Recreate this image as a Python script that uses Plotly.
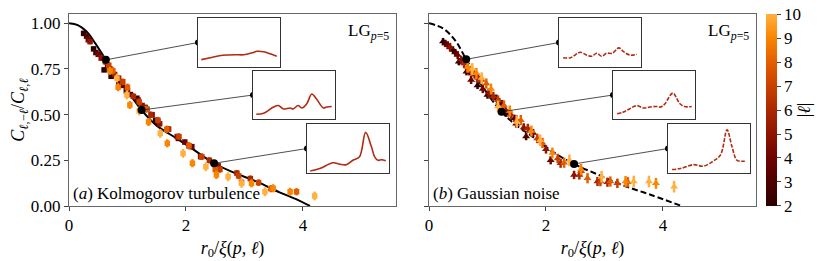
import plotly.graph_objects as go

# ---------------- data ----------------
ells = [2, 3, 4, 5, 6, 7, 8, 9, 10]
ell_colors = ["#2d0000", "#4d0000", "#6e0300", "#8e1400", "#ab2800",
              "#c94100", "#e45e00", "#f98500", "#ffb040"]
err_by_ell = [0.012, 0.012, 0.014, 0.015, 0.017, 0.018, 0.020, 0.022, 0.024]

# panel (a) Kolmogorov turbulence
xa = {
    2: [0.25, 0.42, 0.60, 0.72, 0.98, 1.16, 1.33, 1.48],
    3: [0.30, 0.46, 0.66, 0.85, 1.05, 1.30, 1.52, 1.87],
    4: [0.33, 0.50, 0.70, 0.90, 1.18, 1.42, 1.70, 1.98, 2.10],
    5: [0.36, 0.55, 0.78, 1.00, 1.25, 1.55, 1.85, 2.25, 2.55],
    6: [0.62, 0.85, 1.10, 1.40, 1.70, 2.05, 2.40, 2.87, 3.10],
    7: [0.68, 0.92, 1.20, 1.52, 1.88, 2.27, 2.58, 2.90, 3.24],
    8: [0.75, 1.00, 1.32, 1.67, 2.05, 2.50, 2.95, 3.45, 3.89],
    9: [0.70, 0.84, 1.04, 1.36, 1.68, 2.11, 2.52, 3.12, 3.49, 3.78],
    10: [0.82, 0.99, 1.20, 1.56, 1.95, 2.34, 2.72, 2.95, 3.35, 4.20],
}
ya = {
    2: [0.945, 0.86, 0.745, 0.71, 0.63, 0.59, 0.53, 0.47],
    3: [0.93, 0.84, 0.77, 0.68, 0.61, 0.54, 0.46, 0.37],
    4: [0.91, 0.83, 0.75, 0.66, 0.58, 0.50, 0.42, 0.35, 0.325],
    5: [0.90, 0.81, 0.72, 0.63, 0.55, 0.45, 0.38, 0.27, 0.22],
    6: [0.79, 0.70, 0.60, 0.50, 0.42, 0.33, 0.25, 0.18, 0.15],
    7: [0.77, 0.68, 0.57, 0.47, 0.38, 0.27, 0.20, 0.165, 0.128],
    8: [0.74, 0.65, 0.53, 0.42, 0.33, 0.20, 0.13, 0.095, 0.078],
    9: [0.74, 0.65, 0.553, 0.46, 0.343, 0.234, 0.17, 0.124, 0.097, 0.078],
    10: [0.70, 0.608, 0.52, 0.398, 0.288, 0.215, 0.16, 0.124, 0.078, 0.055],
}
# panel (b) Gaussian noise
xb = {
    2: [0.24, 0.41, 0.51, 0.69, 0.83, 1.00, 1.15, 1.32],
    3: [0.28, 0.45, 0.64, 0.86, 1.05, 1.25, 1.46, 1.66],
    4: [0.32, 0.49, 0.72, 0.92, 1.20, 1.49, 1.78, 2.08],
    5: [0.36, 0.55, 0.78, 1.02, 1.30, 1.62, 2.00, 2.48],
    6: [0.60, 0.84, 1.10, 1.40, 1.69, 2.25, 2.57, 2.88, 3.05],
    7: [0.66, 0.90, 1.18, 1.50, 1.85, 2.20, 2.60, 2.93, 3.22],
    8: [0.72, 0.98, 1.28, 1.57, 1.94, 2.31, 2.71, 3.10, 3.40],
    9: [0.66, 0.81, 1.06, 1.38, 1.75, 2.11, 2.60, 3.36, 3.88],
    10: [0.74, 0.90, 1.18, 1.50, 1.90, 2.40, 2.95, 3.50, 3.76, 4.19],
}
yb = {
    2: [0.90, 0.854, 0.79, 0.735, 0.66, 0.607, 0.59, 0.508],
    3: [0.89, 0.84, 0.735, 0.69, 0.61, 0.56, 0.48, 0.38],
    4: [0.88, 0.826, 0.69, 0.64, 0.57, 0.45, 0.40, 0.25],
    5: [0.87, 0.80, 0.72, 0.62, 0.53, 0.43, 0.31, 0.17],
    6: [0.78, 0.70, 0.60, 0.50, 0.425, 0.234, 0.17, 0.134, 0.13],
    7: [0.76, 0.69, 0.58, 0.47, 0.37, 0.26, 0.19, 0.134, 0.124],
    8: [0.74, 0.67, 0.55, 0.47, 0.345, 0.237, 0.152, 0.134, 0.13],
    9: [0.76, 0.726, 0.64, 0.52, 0.41, 0.29, 0.20, 0.134, 0.124],
    10: [0.75, 0.70, 0.545, 0.46, 0.36, 0.25, 0.16, 0.134, 0.134, 0.106],
}

# theory curves
curve_a_x = [0, 0.15, 0.3, 0.45, 0.63, 0.8, 0.93, 1.1, 1.24, 1.5, 1.84, 2.1, 2.48, 2.8, 3.21, 3.6, 3.9, 4.12]
curve_a_y = [1.0, 0.99, 0.955, 0.89, 0.80, 0.72, 0.663, 0.585, 0.525, 0.44, 0.37, 0.315, 0.234, 0.185, 0.133, 0.075, 0.035, 0.0]
curve_b_x = [0, 0.24, 0.45, 0.636, 0.9, 1.24, 1.5, 1.77, 2.1, 2.48, 2.9, 3.3, 3.8, 4.32]
curve_b_y = [1.0, 0.972, 0.905, 0.803, 0.66, 0.516, 0.44, 0.38, 0.30, 0.23, 0.17, 0.115, 0.06, 0.0]

# highlighted points (linked to insets)
hi_a_x = [0.63, 1.24, 2.48]
hi_a_y = [0.80, 0.525, 0.234]
hi_b_x = [0.636, 1.24, 2.48]
hi_b_y = [0.803, 0.516, 0.23]

# inset profiles (normalised)
ins_a = [
    ([0.04, 0.15, 0.26, 0.36, 0.46, 0.56, 0.66, 0.72, 0.80, 0.88, 0.96],
     [0.15, 0.19, 0.23, 0.245, 0.25, 0.25, 0.29, 0.32, 0.31, 0.27, 0.22]),
    ([0.04, 0.13, 0.25, 0.31, 0.37, 0.45, 0.49, 0.55, 0.595, 0.656, 0.717, 0.777, 0.858, 0.899, 0.96],
     [0.10, 0.12, 0.25, 0.28, 0.21, 0.23, 0.21, 0.28, 0.23, 0.32, 0.52, 0.41, 0.23, 0.25, 0.26]),
    ([0.04, 0.155, 0.317, 0.40, 0.48, 0.56, 0.64, 0.715, 0.785, 0.825, 0.866, 0.91, 0.96],
     [0.04, 0.09, 0.21, 0.18, 0.17, 0.26, 0.33, 0.83, 0.54, 0.33, 0.26, 0.27, 0.25]),
]
ins_b = [
    ([0.05, 0.14, 0.26, 0.34, 0.40, 0.46, 0.52, 0.58, 0.65, 0.73, 0.79, 0.87, 0.95],
     [0.19, 0.19, 0.30, 0.24, 0.22, 0.28, 0.22, 0.28, 0.28, 0.39, 0.31, 0.24, 0.26]),
    ([0.05, 0.12, 0.20, 0.29, 0.37, 0.45, 0.53, 0.58, 0.63, 0.73, 0.81, 0.87, 0.96],
     [0.11, 0.14, 0.21, 0.28, 0.23, 0.25, 0.26, 0.25, 0.31, 0.54, 0.33, 0.26, 0.26]),
    ([0.05, 0.15, 0.31, 0.43, 0.54, 0.64, 0.72, 0.78, 0.84, 0.90, 0.96],
     [0.07, 0.09, 0.17, 0.14, 0.23, 0.37, 0.88, 0.54, 0.26, 0.24, 0.24]),
]

# ---------------- layout geometry (pixels, in screenshot coordinates) ----------------
W, H = 831, 261
OFF = 8  # page body margin that offsets the figure in the screenshot
AX_L, AX_R, AX_T, AX_B = 69, 756, 14, 206   # overall plot-area extent in the screenshot
ML, MT = AX_L - OFF, AX_T - OFF
MR, MB = W - (AX_R - OFF), H - (AX_B - OFF)
PW, PH = AX_R - AX_L, AX_B - AX_T
XR = [0, 5.59]
YR = [0, 1.051]
pa = (69, 396)   # panel a pixel x-extent
pb = (429, 756)  # panel b pixel x-extent
insets_a_px = [(198, 280, 18, 67), (253, 335, 71, 119), (307, 389, 124, 173)]
insets_b_px = [(559, 641, 18, 67), (613, 695, 71, 119), (668, 750, 124, 173)]


def px2fx(px):
    return (px - AX_L) / PW


def py2fy(py):
    return (AX_B - py) / PH


def px2data(px, panel):
    return XR[0] + (px - panel[0]) / (panel[1] - panel[0]) * (XR[1] - XR[0])


def py2data(py):
    return YR[0] + (AX_B - py) / PH * (YR[1] - YR[0])


FONT = "Liberation Serif, DejaVu Serif, Times New Roman, serif"
INSET_COLOR = "#b22a10"

fig = go.Figure()

# theory curves
fig.add_trace(go.Scatter(x=curve_a_x, y=curve_a_y, mode="lines", line=dict(color="black", width=2, shape="spline"),
                         xaxis="x", yaxis="y", showlegend=False))
fig.add_trace(go.Scatter(x=curve_b_x, y=curve_b_y, mode="lines",
                         line=dict(color="black", width=2, dash="6px,3px", shape="spline"),
                         xaxis="x2", yaxis="y2", showlegend=False))

# data points
for i, l in enumerate(ells):
    fig.add_trace(go.Scatter(
        x=xa[l], y=ya[l], mode="markers", xaxis="x", yaxis="y", showlegend=False,
        marker=dict(symbol="square", size=5.5, color=ell_colors[i], line=dict(width=0)),
        error_y=dict(type="constant", value=err_by_ell[i], color=ell_colors[i], thickness=2.5, width=0)))
    fig.add_trace(go.Scatter(
        x=xb[l], y=yb[l], mode="markers", xaxis="x2", yaxis="y2", showlegend=False,
        marker=dict(symbol="triangle-up", size=7, color=ell_colors[i], line=dict(width=0)),
        error_y=dict(type="constant", value=err_by_ell[i] + 0.008, color=ell_colors[i], thickness=2.5, width=0)))

# connectors + highlighted points
for (hx, hy, ins_px, panel, xa_n, ya_n) in [
        (hi_a_x, hi_a_y, insets_a_px, pa, "x", "y"),
        (hi_b_x, hi_b_y, insets_b_px, pb, "x2", "y2")]:
    for k in range(3):
        x0p, x1p, y0p, y1p = ins_px[k]
        ex = px2data(x0p, panel)
        ey = py2data((y0p + y1p) / 2)
        fig.add_trace(go.Scatter(x=[hx[k], ex], y=[hy[k], ey], mode="lines",
                                 line=dict(color="#222", width=0.8),
                                 xaxis=xa_n, yaxis=ya_n, showlegend=False, cliponaxis=False))
        fig.add_trace(go.Scatter(x=[hx[k], ex], y=[hy[k], ey], mode="markers",
                                 marker=dict(color="#000000", size=[8, 6], opacity=1, line=dict(width=0)),
                                 xaxis=xa_n, yaxis=ya_n, showlegend=False, cliponaxis=False))

# inset traces
axis_idx = 3
inset_axes = {}
for ins_list, ins_px, dash in [(ins_a, insets_a_px, "solid"), (ins_b, insets_b_px, "4px,1.5px")]:
    for k in range(3):
        xs, ys = ins_list[k]
        fig.add_trace(go.Scatter(x=xs, y=ys, mode="lines",
                                 line=dict(color=INSET_COLOR, width=1.6, dash=dash, shape="spline"),
                                 xaxis=f"x{axis_idx}", yaxis=f"y{axis_idx}", showlegend=False))
        x0p, x1p, y0p, y1p = ins_px[k]
        inset_axes[axis_idx] = ([px2fx(x0p), px2fx(x1p)], [py2fy(y1p), py2fy(y0p)])
        axis_idx += 1

# colorbar carrier
cpad = 0.0005
fig.add_trace(go.Scatter(
    x=[None], y=[None], mode="markers", xaxis="x", yaxis="y", showlegend=False,
    marker=dict(color=[ells[0], ells[-1]], cmin=ells[0] - cpad, cmax=ells[-1] + cpad,
                colorscale=[[(l - ells[0]) / (ells[-1] - ells[0]), c] for l, c in zip(ells, ell_colors)],
                showscale=True,
                colorbar=dict(x=px2fx(766), xanchor="left", xpad=0, ypad=0, y=0.5, yanchor="middle",
                              len=1.0, lenmode="fraction", thickness=11, thicknessmode="pixels",
                              outlinewidth=0, tickvals=ells, ticktext=[str(l) for l in ells],
                              ticklabeloverflow="allow",
                              ticks="outside", ticklen=4,
                              tickcolor="#444", tickfont=dict(family=FONT, size=17, color="black"),
                              title=dict(text="|<i>ℓ</i>|", side="right",
                                         font=dict(family=FONT, size=18, color="black")))))
)

axis_common = dict(range=XR, showgrid=False, zeroline=False, showline=True, mirror=True,
                   linecolor="#666", linewidth=1, ticks="outside", ticklen=4, tickcolor="#444",
                   tickvals=[0, 2, 4], tickfont=dict(family=FONT, size=17, color="black"),
                   title=dict(text="<i>r</i><sub>0</sub>/<i>ξ</i>(<i>p</i>, <i>ℓ</i>)",
                              font=dict(family=FONT, size=18, color="black"), standoff=6))
yaxis_common = dict(range=YR, showgrid=False, zeroline=False, showline=True, mirror=True,
                    linecolor="#666", linewidth=1, ticks="outside", ticklen=4, tickcolor="#444",
                    tickvals=[0, 0.25, 0.5, 0.75, 1.0], tickformat=".2f",
                    tickfont=dict(family=FONT, size=17, color="black"))

layout = dict(
    width=W, height=H, margin=dict(l=ML, r=MR, t=MT, b=MB, autoexpand=False),
    paper_bgcolor="white", plot_bgcolor="white",
    font=dict(family=FONT, color="black"),
    xaxis=dict(axis_common, domain=[px2fx(pa[0]), px2fx(pa[1])], anchor="y", automargin=False),
    yaxis=dict(yaxis_common, domain=[0, 1], anchor="x", automargin=False,
               title=dict(text="<i>C</i><sub><i>ℓ</i>,−<i>ℓ</i></sub>/<i>C</i><sub><i>ℓ</i>,<i>ℓ</i></sub>",
                          font=dict(family=FONT, size=18, color="black"), standoff=4)),
    xaxis2=dict(axis_common, domain=[px2fx(pb[0]), px2fx(pb[1])], anchor="y2", automargin=False),
    yaxis2=dict(yaxis_common, domain=[0, 1], anchor="x2", showticklabels=False, automargin=False),
    annotations=[
        dict(text="(<i>a</i>) Kolmogorov turbulence", xref="x domain", yref="y domain", x=0.005, y=0.005,
             xanchor="left", yanchor="bottom", showarrow=False, font=dict(family=FONT, size=17)),
        dict(text="(<i>b</i>) Gaussian noise", xref="x2 domain", yref="y2 domain", x=0.005, y=0.005,
             xanchor="left", yanchor="bottom", showarrow=False, font=dict(family=FONT, size=17)),
        dict(text="LG<sub><i>p</i>=5</sub>", xref="x domain", yref="y domain", x=0.985, y=0.975,
             xanchor="right", yanchor="top", showarrow=False, font=dict(family=FONT, size=17)),
        dict(text="LG<sub><i>p</i>=5</sub>", xref="x2 domain", yref="y2 domain", x=0.985, y=0.975,
             xanchor="right", yanchor="top", showarrow=False, font=dict(family=FONT, size=17)),
    ],
)
for idx, (dx, dy) in inset_axes.items():
    layout[f"xaxis{idx}"] = dict(domain=dx, range=[0, 1], anchor=f"y{idx}", showgrid=False, zeroline=False,
                                 showline=True, mirror=True, linecolor="#333", linewidth=1,
                                 showticklabels=False, ticks="", fixedrange=True)
    layout[f"yaxis{idx}"] = dict(domain=dy, range=[0, 1], anchor=f"x{idx}", showgrid=False, zeroline=False,
                                 showline=True, mirror=True, linecolor="#333", linewidth=1,
                                 showticklabels=False, ticks="", fixedrange=True)

fig.update_layout(**layout)
fig.write_html("out.html")
